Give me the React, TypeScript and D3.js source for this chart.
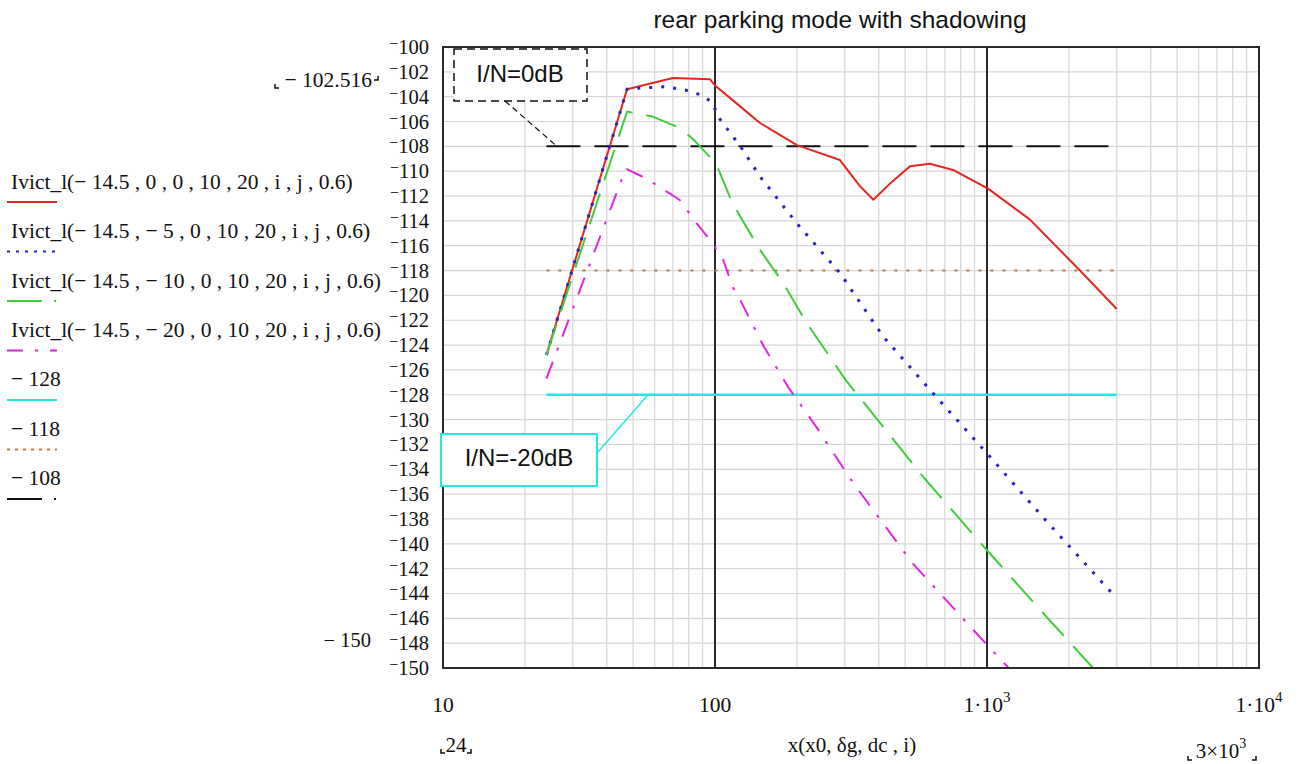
import React from 'react';
import * as d3 from 'd3';

// values
const redSeries: [number, number][] = [
  [24, -124.8], [47.5, -103.4], [70, -102.5], [96, -102.6], [100, -103.1], [124, -104.8],
  [146, -106.1], [200, -107.9], [288, -109.1], [341, -111.2], [382, -112.3], [440, -111.0],
  [521, -109.6], [617, -109.4], [750, -109.9], [1009, -111.4], [1439, -113.9], [2197, -118.0],
  [3000, -121.1],
];
const blueSeries: [number, number][] = [
  [24, -124.8], [47.5, -103.4], [53, -103.3], [66, -103.2], [79, -103.5], [90, -103.9],
  [98, -104.5], [102.5, -105.6], [124, -108.0], [146, -110.4], [200, -114.2], [288, -118.2],
  [415, -123.3], [617, -127.6], [998, -132.7], [1658, -138.2], [3000, -144.4],
];
const greenSeries: [number, number][] = [
  [24, -124.8], [47.5, -105.2], [59, -105.6], [74, -106.5], [83, -107.4], [101, -109.4],
  [116, -112.6], [146, -116.3], [178, -119.0], [217, -122.2], [302, -126.8], [582, -134.6],
  [998, -140.5], [1658, -145.9], [2455, -150.0],
];
const magentaSeries: [number, number][] = [
  [24, -126.7], [47, -109.8], [56, -110.6], [74, -112.3], [85, -114.1], [98, -115.8],
  [107, -117.1], [116, -119.3], [124, -120.4], [151, -124.1], [186, -127.4], [236, -130.6],
  [322, -135.1], [534, -141.6], [914, -147.2], [1200, -150.0],
];
const levelRange = [24, 3000];
const levels = [-128, -118, -108];

const legendLabels = [
  'Ivict_l(− 14.5 , 0 , 0 , 10 , 20 , i , j , 0.6)',
  'Ivict_l(− 14.5 , − 5 , 0 , 10 , 20 , i , j , 0.6)',
  'Ivict_l(− 14.5 , − 10 , 0 , 10 , 20 , i , j , 0.6)',
  'Ivict_l(− 14.5 , − 20 , 0 , 10 , 20 , i , j , 0.6)',
  '− 128',
  '− 118',
  '− 108',
];
const yTicks = d3.range(-100, -151, -2);
const xMajor = [10, 100, 1000, 10000];

const serif = '"Liberation Serif", "Times New Roman", serif';
const sans = '"Liberation Sans", Arial, sans-serif';

function Corner({x, y, right}: {x: number; y: number; right?: boolean}) {
  const d = right ? `M${x - 4},${y} L${x},${y} L${x},${y - 4}` : `M${x},${y - 4} L${x},${y} L${x + 4},${y}`;
  return <path d={d} fill="none" stroke="#111" strokeWidth={1.5} />;
}

export default function App() {
  const width = 1305;
  const height = 764;
  const left = 443, right = 1259, top = 47, bottom = 668;

  const x = d3.scaleLog().domain([10, 10000]).range([left, right]);
  const y = d3.scaleLinear().domain([-150, -100]).range([bottom, top]);
  const line = d3.line<[number, number]>().x(d => x(d[0])).y(d => y(d[1]));

  const minor: number[] = [];
  for (let p = 10; p < 10000; p *= 10) for (let k = 2; k <= 9; k++) minor.push(p * k);

  const series = [
    {data: redSeries, color: '#e3261f', dash: undefined, w: 2},
    {data: blueSeries, color: '#2424c8', dash: '3,9', w: 3},
    {data: greenSeries, color: '#3fce3a', dash: '32,14', w: 2},
    {data: magentaSeries, color: '#e324e0', dash: '18,12,3,12', w: 2},
  ];
  const levelStyle: Record<number, {color: string; dash?: string; w: number}> = {
    [-128]: {color: '#27e6e6', w: 2.5},
    [-118]: {color: '#b87a3e', dash: '3,9', w: 2},
    [-108]: {color: '#111', dash: '34,14', w: 2},
  };

  const legendRows = [
    {c: '#e3261f', dash: undefined},
    {c: '#2424c8', dash: '3,6'},
    {c: '#3fce3a', dash: '35,12,2,12'},
    {c: '#e324e0', dash: '16,12,3,12'},
    {c: '#27e6e6', dash: undefined},
    {c: '#b87a3e', dash: '3,5'},
    {c: '#111', dash: '35,12,2,12'},
  ];

  return (
    <svg width={width} height={height} style={{position: 'absolute', left: 0, top: 0, background: '#fff'}}>
      <defs>
        <clipPath id="plot">
          <rect x={left} y={top} width={right - left} height={bottom - top} />
        </clipPath>
      </defs>
      <rect width={width} height={height} fill="#fff" />

      <text x={840} y={28} textAnchor="middle" fontFamily={sans} fontSize={24.5} fill="#111">
        rear parking mode with shadowing
      </text>

      {/* grid */}
      {yTicks.map(t => (
        <line key={'h' + t} x1={left} x2={right} y1={y(t)} y2={y(t)} stroke="#d6d6d6" strokeWidth={1.2} />
      ))}
      {minor.map(m => (
        <line key={'v' + m} x1={x(m)} x2={x(m)} y1={top} y2={bottom} stroke="#d6d6d6" strokeWidth={1.2} />
      ))}
      {[100, 1000].map(m => (
        <line key={'M' + m} x1={x(m)} x2={x(m)} y1={top} y2={bottom} stroke="#2a2a2a" strokeWidth={2} />
      ))}

      {/* level lines */}
      {levels.map(l => (
        <line key={'l' + l} x1={x(levelRange[0])} x2={x(levelRange[1])} y1={y(l)} y2={y(l)}
              stroke={levelStyle[l].color} strokeWidth={levelStyle[l].w} strokeDasharray={levelStyle[l].dash} />
      ))}

      {/* curves */}
      <g clipPath="url(#plot)">
        {series.map((s, i) => (
          <path key={i} d={line(s.data) || ''} fill="none" stroke={s.color} strokeWidth={s.w}
                strokeDasharray={s.dash} strokeLinejoin="round" />
        ))}
      </g>

      <rect x={left} y={top} width={right - left} height={bottom - top} fill="none" stroke="#2a2a2a" strokeWidth={2} />

      {/* y tick labels */}
      {yTicks.map(t => (
        <text key={'yt' + t} x={429} y={y(t) + 7} textAnchor="end" fontFamily={serif} fontSize={20.5} fill="#111">
          <tspan dy={-5} fontSize={16}>−</tspan>
          <tspan dy={5}>{Math.abs(t)}</tspan>
        </text>
      ))}

      {/* x tick labels */}
      {xMajor.map(m => {
        const e = Math.round(Math.log10(m));
        return (
          <text key={'xt' + m} x={x(m)} y={712} textAnchor="middle" fontFamily={serif} fontSize={21.5} fill="#111">
            {e < 3 ? String(m) : <>1·10<tspan dy={-10} fontSize={15}>{e}</tspan></>}
          </text>
        );
      })}

      {/* range markers */}
      <text x={372} y={87} textAnchor="end" fontFamily={serif} fontSize={21.5} fill="#111">− 102.516</text>
      <Corner x={275} y={88} />
      <Corner x={378} y={80} right />
      <text x={371} y={647} textAnchor="end" fontFamily={serif} fontSize={20.5} fill="#111">− 150</text>
      <text x={456} y={752} textAnchor="middle" fontFamily={serif} fontSize={21} fill="#111">24</text>
      <Corner x={441} y={753} />
      <Corner x={471} y={753} right />
      <text x={852} y={752} textAnchor="middle" fontFamily={serif} fontSize={21} fill="#111">x(x0, δg, dc , i)</text>
      <text x={1221} y={758} textAnchor="middle" fontFamily={serif} fontSize={21} fill="#111">
        3×10<tspan dy={-10} fontSize={14}>3</tspan>
      </text>
      <Corner x={1188} y={760} />
      <Corner x={1256} y={760} right />

      {/* legend */}
      {legendLabels.map((lab, i) => (
        <g key={'lg' + i}>
          <text x={11} y={189 + i * 49.3} fontFamily={serif} fontSize={21.5} fill="#111">{lab}</text>
          <line x1={7} x2={57} y1={202 + i * 49.5} y2={202 + i * 49.5} stroke={legendRows[i].c} strokeWidth={2}
                strokeDasharray={legendRows[i].dash} />
        </g>
      ))}

      {/* annotations */}
      <rect x={454} y={49} width={133} height={52} fill="#fff" stroke="#111" strokeWidth={1.5} strokeDasharray="8,5" />
      <text x={520} y={82} textAnchor="middle" fontFamily={sans} fontSize={24} fill="#111">I/N=0dB</text>
      <line x1={505} y1={101} x2={557} y2={y(-108)} stroke="#111" strokeWidth={1.2} strokeDasharray="6,4" />

      <rect x={441} y={434} width={156} height={52} fill="#fff" stroke="#27e6e6" strokeWidth={2} />
      <text x={519} y={466} textAnchor="middle" fontFamily={sans} fontSize={24} fill="#111">I/N=-20dB</text>
      <line x1={598} y1={452} x2={648} y2={y(-128)} stroke="#27e6e6" strokeWidth={1.5} />
    </svg>
  );
}
